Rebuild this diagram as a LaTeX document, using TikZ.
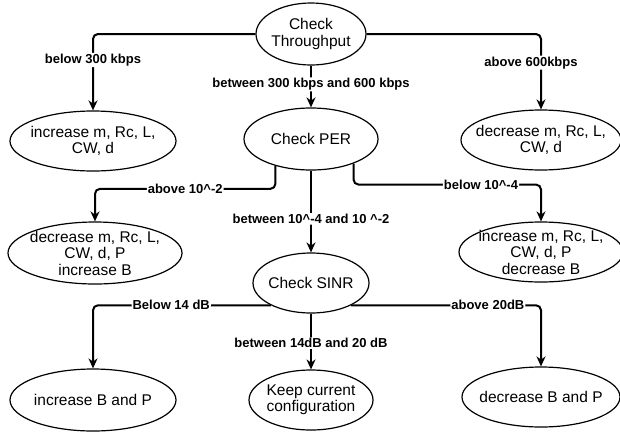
\documentclass[tikz,border=0pt]{standalone}
\usepackage{fontspec}
\setmainfont{Liberation Sans}
\usetikzlibrary{arrows.meta,shapes.geometric}
\tikzset{
  state/.style={draw, ellipse, line width=1.2pt, inner xsep=-40pt, inner ysep=-12pt,
    align=center, font=\fontsize{15.5}{16.5}\selectfont},
  link/.style={line width=2pt, rounded corners=5pt, -{Stealth[length=10pt,width=9pt]}},
  cond/.style={fill=white, inner sep=1pt, font=\fontsize{13}{14}\selectfont\bfseries},
}

\begin{document}
\begin{tikzpicture}[x=1pt,y=-1pt]
			%%%%% START %%%%%
			\useasboundingbox (0,0) rectangle (620,434);
			
			\node[state, minimum width=110pt, minimum height=62pt] (thr) at (311,34) {Check\\Throughput};
			
			\node[state, minimum width=166pt, minimum height=60pt] (inc1) at (93,141) {increase m, Rc, L,\\CW, d};
			\node[state, minimum width=134pt, minimum height=62pt] (per) at (311,139) {Check PER};
			\node[state, minimum width=160pt, minimum height=60pt] (dec1) at (541,140) {decrease m, Rc, L,\\CW, d};
			
			\node[state, minimum width=174pt, minimum height=62pt] (dec2) at (95,253) {decrease m, Rc, L,\\CW, d, P\\increase B};
			\node[state, minimum width=116pt, minimum height=60pt] (sinr) at (311,283) {Check SINR};
			\node[state, minimum width=164pt, minimum height=60pt] (inc2) at (541,252) {increase m, Rc, L,\\CW, d, P\\decrease B};
			
			\node[state, minimum width=166pt, minimum height=62pt] (incbp) at (93,400) {increase B and P};
			\node[state, minimum width=124pt, minimum height=60pt] (keep) at (311,400) {Keep current\\configuration};
			\node[state, minimum width=158pt, minimum height=60pt] (decbp) at (541,397) {decrease B and P};
			
			\draw[link] (thr.west) -| node[cond, pos=0.67] {below 300 kbps} (inc1.north);
			\draw[link] (thr.east) -| node[cond, pos=0.69, xshift=-10pt] {above 600kbps} (dec1.north);
			\draw[link] (thr.south) -- node[cond, pos=0.45] {between 300 kbps and 600 kbps} (per.north);
			
			\draw[link] (per.217) -- ++(0,23) -| node[cond, pos=0.25] {above 10\textasciicircum-2} (dec2.north);
			\draw[link] (per.330) -- ++(0,21) -| node[cond, pos=0.34] {below 10\textasciicircum-4} (inc2.north);
			\draw[link] (per.south) -- node[cond, pos=0.59] {between 10\textasciicircum-4 and 10 \textasciicircum-2} (sinr.north);
			
			\draw[link] (sinr.209) -| node[cond, pos=0.28] {Below 14 dB} (incbp.north);
			\draw[link] (sinr.331) -| node[cond, pos=0.36] {above 20dB} (decbp.north);
			\draw[link] (sinr.south) -- node[cond, pos=0.53] {between 14dB and 20 dB} (keep.north);
			%%%%% END %%%%%
\end{tikzpicture}
\end{document}
